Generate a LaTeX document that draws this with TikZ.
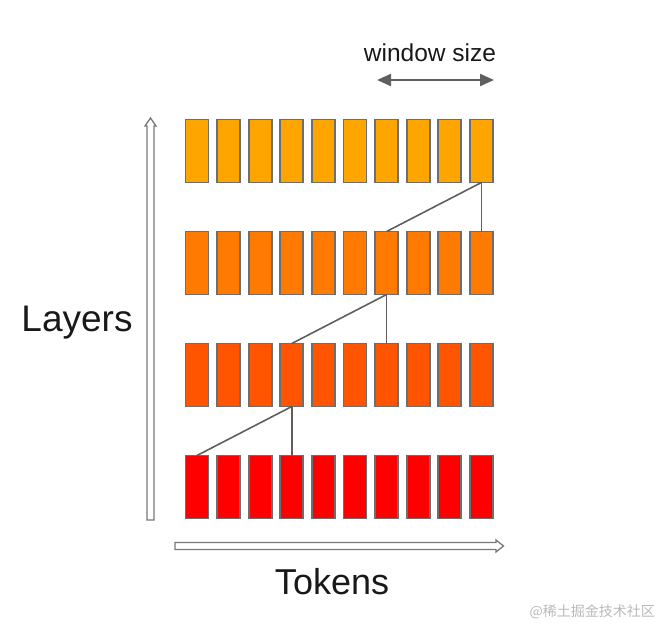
\documentclass[tikz,border=0pt]{standalone}
\usepackage{fontspec}
\setmainfont{Liberation Sans}
\newfontfamily\cjk{Noto Sans CJK SC}
\usetikzlibrary{arrows.meta}
\definecolor{rowA}{RGB}{255,165,0}
\definecolor{rowB}{RGB}{255,122,0}
\definecolor{rowC}{RGB}{255,84,0}
\definecolor{rowD}{RGB}{255,0,0}
\definecolor{edge}{RGB}{110,110,110}
\definecolor{link}{RGB}{95,95,95}
\definecolor{axis}{RGB}{120,120,120}
\definecolor{wm}{RGB}{185,185,185}
\tikzset{
  tok/.style={draw=edge, line width=1.7pt, minimum width=23pt, minimum height=63pt, inner sep=0pt, outer sep=0pt},
  linkline/.style={draw=link, line width=1.6pt},
  axisarrow/.style={draw=axis, fill=white, line width=1.3pt, line join=miter},
  lbl/.style={inner sep=0pt, anchor=base, text=black!90},
}
\begin{document}
\begin{tikzpicture}[x=1pt,y=-1pt]
\useasboundingbox (0,0) rectangle (659,625);
% rows
\foreach \r/\c/\yc in {1/rowA/151, 2/rowB/263, 3/rowC/375, 4/rowD/487}{
  \foreach \j in {1,...,10}{
    \node[tok, fill=\c] (r-\r-\j) at ({197+(\j-1)*31.6},\yc) {};
  }
}
% dependency links
\draw[linkline] (r-3-4.south) -- (r-4-1.north);
\draw[linkline] (r-3-4.south) -- (r-4-4.north);
\draw[linkline] (r-2-7.south) -- (r-3-4.north);
\draw[linkline] (r-2-7.south) -- (r-3-7.north);
\draw[linkline] (r-1-10.south) -- (r-2-7.north);
\draw[linkline] (r-1-10.south) -- (r-2-10.north);
% window size
\coordinate (wl) at (377,80);
\coordinate (wr) at (494,80);
\draw[draw=link, line width=2.2pt, {Triangle[length=14pt,width=12pt]}-{Triangle[length=14pt,width=12pt]}] (wl) -- (wr);
\node[lbl, font=\fontsize{24.5}{28}\selectfont] (ws) at (430,61) {window size};
% axes
\draw[axisarrow] (147,520) -- (147,126) -- (145,126) -- (150.5,118) -- (156,126) -- (154,126) -- (154,520) -- cycle;
\draw[axisarrow] (175,542.5) -- (496,542.5) -- (496,540) -- (503.5,546) -- (496,552) -- (496,549.5) -- (175,549.5) -- cycle;
\node[lbl, font=\fontsize{37}{42}\selectfont] (layers) at (77,331.5) {Layers};
\node[lbl, font=\fontsize{36}{42}\selectfont] (tokens) at (332,594) {Tokens};
% watermark
\node[lbl, font=\cjk\fontsize{14}{16}\selectfont, text=wm, anchor=base east] (mark) at (655,616) {@稀土掘金技术社区};
\end{tikzpicture}
\end{document}
